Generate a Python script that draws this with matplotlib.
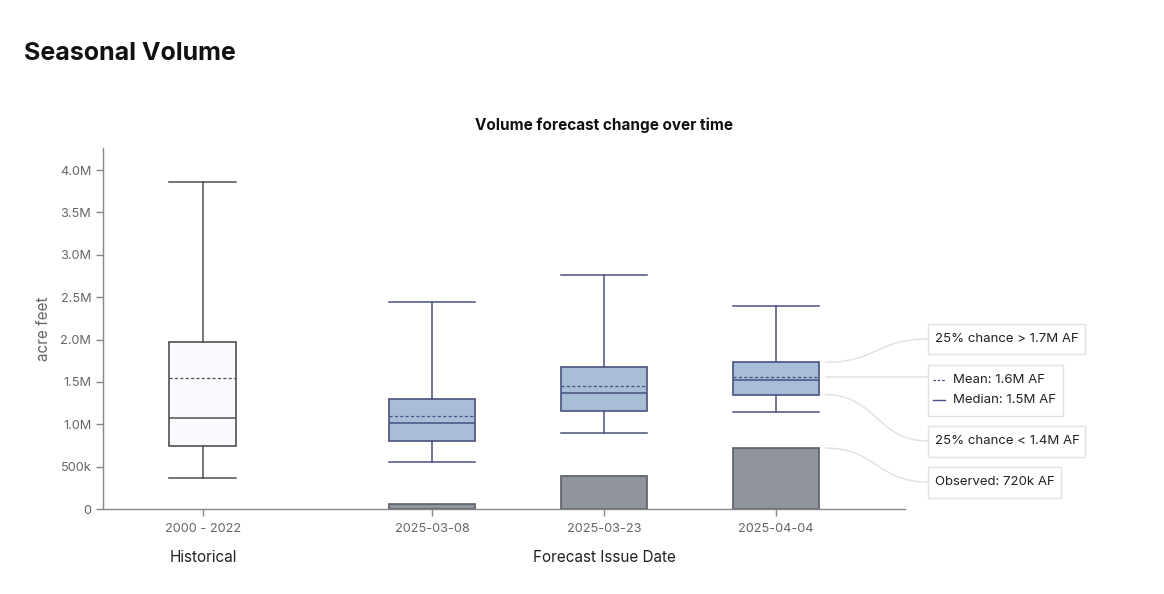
import matplotlib
matplotlib.use("Agg")
import matplotlib.pyplot as plt
from matplotlib.patches import Rectangle, PathPatch
from matplotlib.path import Path
from matplotlib.lines import Line2D
from matplotlib.ticker import FuncFormatter, MultipleLocator

plt.rcParams['font.family'] = ['Inter', 'DejaVu Sans']

# ---- data ----
categories = ["2000 - 2022", "2025-03-08", "2025-03-23", "2025-04-04"]
whisker_low = [366e3, 558e3, 901e3, 1141e3]
q1 = [743e3, 802e3, 1156e3, 1349e3]
median = [1074e3, 1011e3, 1369e3, 1518e3]
mean = [1545e3, 1101e3, 1455e3, 1558e3]
q3 = [1972e3, 1294e3, 1679e3, 1731e3]
whisker_high = [3860e3, 2446e3, 2757e3, 2400e3]
observed = [None, 63e3, 386e3, 720e3]
annot_texts = ["25% chance > 1.7M AF", "Mean: 1.6M AF", "Median: 1.5M AF",
               "25% chance < 1.4M AF", "Observed: 720k AF"]

W, H = 1164, 594
fig = plt.figure(figsize=(W / 100, H / 100), dpi=100)
ax = fig.add_axes([103 / W, 1 - 509 / H, (905 - 103) / W, (509 - 148) / H])

positions = [0, 4 / 3, 7 / 3, 10 / 3]
ax.set_xlim(-0.581, 4.083)
ax.set_ylim(0, 4.26e6)

hist_edge = "#505050"
fc_edge = "#4a5180"
fc_fill = "#a8bed6"

for i, pos in enumerate(positions):
    hist = (i == 0)
    edge = hist_edge if hist else fc_edge
    fill = "#f8fafd" if hist else fc_fill
    width = 0.39 if hist else 0.5
    if observed[i] is not None:
        ax.bar(pos, observed[i], width=width, color="#90949c", edgecolor="#5a5e66",
               linewidth=1.2, zorder=2)
    stats = [dict(whislo=whisker_low[i], q1=q1[i], med=median[i], mean=mean[i],
                  q3=q3[i], whishi=whisker_high[i], fliers=[])]
    ax.bxp(stats, positions=[pos], widths=width, patch_artist=True,
           showmeans=True, meanline=True, showfliers=False,
           boxprops=dict(facecolor=fill, edgecolor=edge, linewidth=1.2),
           medianprops=dict(color=edge, linewidth=1.1),
           meanprops=dict(color=edge, linewidth=0.9, linestyle=(0, (2.5, 1.8))),
           whiskerprops=dict(color=edge, linewidth=1.1),
           capprops=dict(color=edge, linewidth=1.1),
           capwidths=width, manage_ticks=False, zorder=3)

ax.set_xticks(positions)
ax.set_xticklabels(categories)
ax.yaxis.set_major_locator(MultipleLocator(5e5))


def fmt(v, _):
    if v == 0:
        return "0"
    if v < 1e6:
        return f"{v / 1e3:.0f}k"
    return f"{v / 1e6:.1f}M"


ax.yaxis.set_major_formatter(FuncFormatter(fmt))
for s in ["top", "right"]:
    ax.spines[s].set_visible(False)
for s in ["left", "bottom"]:
    ax.spines[s].set_color("#888888")
    ax.spines[s].set_linewidth(1.0)
ax.tick_params(axis="both", colors="#888888", labelcolor="#666666", labelsize=9.2,
               length=5, width=1)
ax.tick_params(axis="x", pad=5)
ax.set_ylabel("acre feet", color="#666666", fontsize=11, labelpad=6)

# titles
fig.text(24 / W, 1 - 53 / H, "Seasonal Volume", fontsize=18, fontweight="bold",
         va="center", ha="left", color="#111111")
fig.text(604 / W, 1 - 125 / H, "Volume forecast change over time", fontsize=11,
         fontweight="bold", va="center", ha="center", color="#111111")
fig.text(203 / W, 1 - 557 / H, "Historical", fontsize=11, va="center", ha="center",
         color="#222222")
fig.text(604 / W, 1 - 557 / H, "Forecast Issue Date", fontsize=11, va="center",
         ha="center", color="#222222")

# annotations (display pixels, origin bottom-left)
def px(x, y):
    return (x, H - y)

last = positions[-1]
right_edge = last + 0.25
boxes = [  # (x0, y0_top, x1, y1_bottom)
    (928, 324, 1085, 354),
    (928, 365, 1063, 416),
    (928, 426, 1085, 457),
    (928, 467, 1061, 498),
]
for (x0, y0, x1, y1) in boxes:
    r = Rectangle(px(x0, y1), x1 - x0, y1 - y0, transform=None, facecolor="white",
                  edgecolor="#e2e2e2", linewidth=1.0)
    fig.add_artist(r)

fig.text(935 / W, 1 - 339 / H, annot_texts[0], fontsize=9.5, va="center", color="#222222")
fig.text(953 / W, 1 - 380 / H, annot_texts[1], fontsize=9.5, va="center", color="#222222")
fig.text(953 / W, 1 - 400 / H, annot_texts[2], fontsize=9.5, va="center", color="#222222")
fig.text(935 / W, 1 - 441 / H, annot_texts[3], fontsize=9.5, va="center", color="#222222")
fig.text(935 / W, 1 - 482 / H, annot_texts[4], fontsize=9.5, va="center", color="#222222")
fig.add_artist(Line2D([933 / W, 945 / W], [1 - 380 / H] * 2, transform=fig.transFigure,
                      color=fc_edge, linewidth=0.9, linestyle=(0, (2, 1.5))))
fig.add_artist(Line2D([933 / W, 945 / W], [1 - 400 / H] * 2, transform=fig.transFigure,
                      color=fc_edge, linewidth=1.0))

# connectors
targets = [(q3[-1], 339), (mean[-1], None), (q1[-1], 441), (observed[-1], 482)]
for val, ty in targets:
    sx, sy = ax.transData.transform((right_edge, val))
    sx += 6
    ex = 928
    if ty is None:
        ey = sy
    else:
        ey = H - ty
    mid = (sx + ex) / 2
    path = Path([(sx, sy), (mid, sy), (mid, ey), (ex, ey)],
                [Path.MOVETO, Path.CURVE4, Path.CURVE4, Path.CURVE4])
    fig.add_artist(PathPatch(path, transform=None, facecolor="none",
                             edgecolor="#e0e0e0", linewidth=1.0))

fig.savefig("out.png", dpi=100)
